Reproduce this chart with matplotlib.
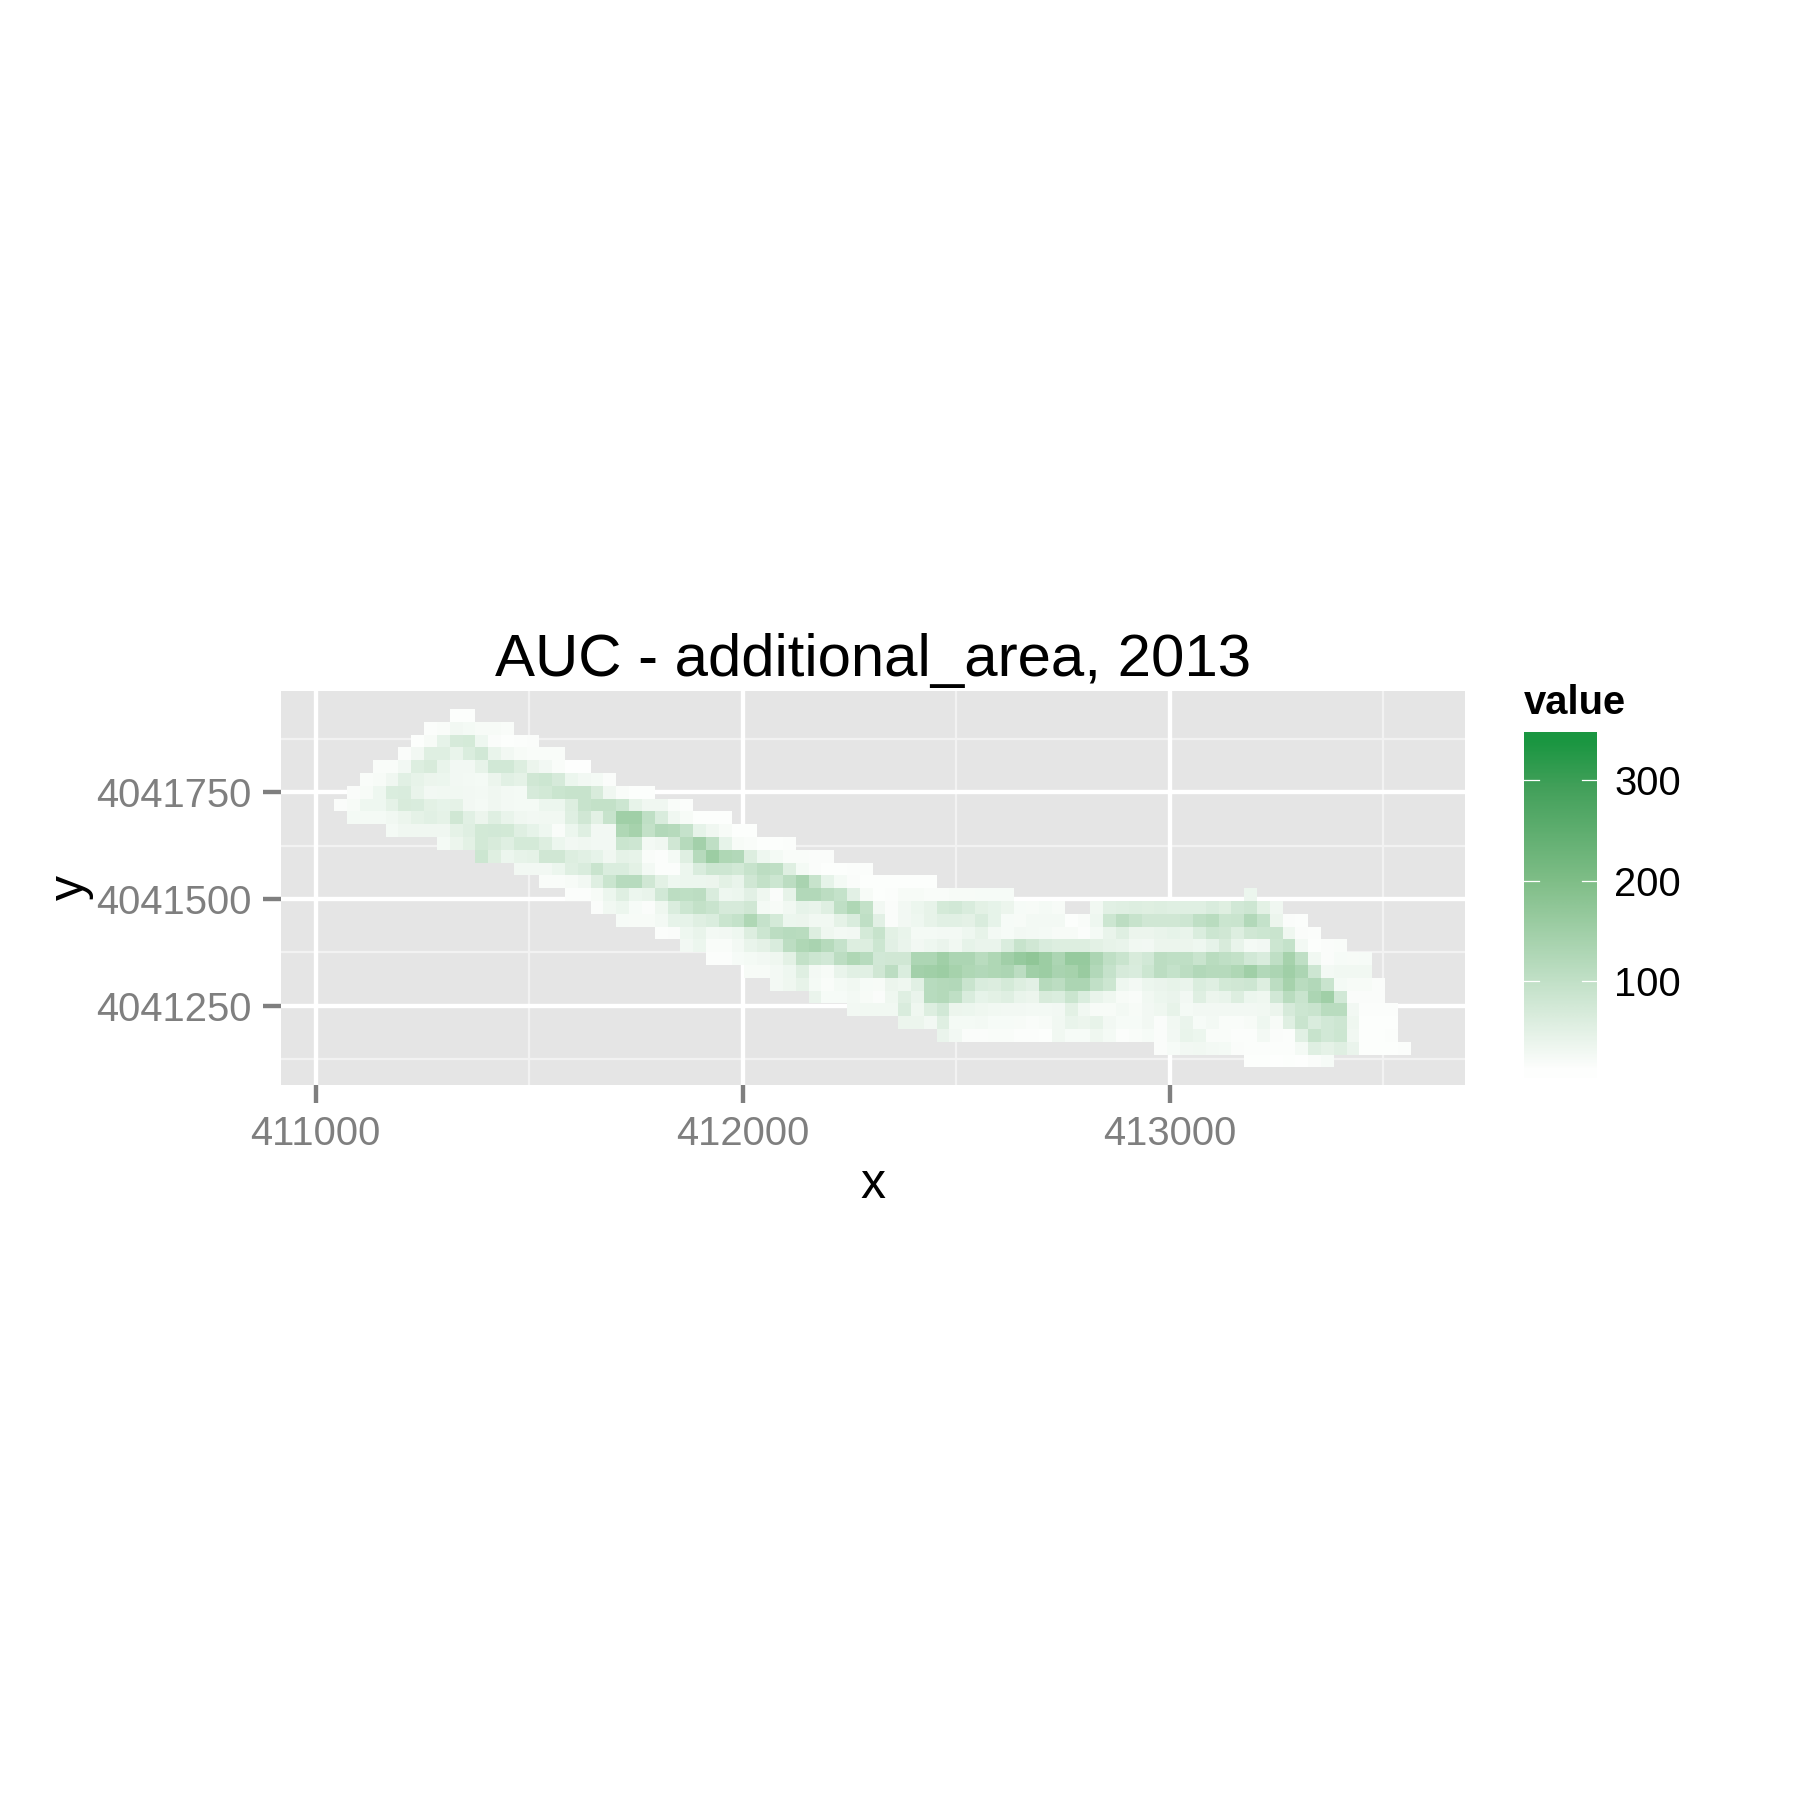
import numpy as np
import matplotlib as mpl
mpl.use('Agg')
import matplotlib.pyplot as plt
from matplotlib.colors import LinearSegmentedColormap, Normalize

plt.rcParams['font.family'] = ['Liberation Sans', 'DejaVu Sans']

nan = float('nan')

# cell size of the raster, map units
cell = 30
x_first = 411059
y_top = 4041930

x_ticks = [411000, 412000, 413000]
x_minor = [411500, 412500, 413500]
y_ticks = [4041250, 4041500, 4041750]
y_minor = [4041125, 4041375, 4041625, 4041875]
legend_ticks = [100, 200, 300]
value_min = 4
value_max = 348

# first column of each row, counted from x_first
row_start = [9, 7, 6, 5, 3, 2, 1, 0, 1, 4, 8, 11, 14, 16, 18, 20, 22, 25, 27, 29, 32, 34, 37, 40, 44, 47, 64, 71]
# last column, only used as a check on the rows below
row_end = [10, 13, 15, 17, 19, 21, 24, 27, 30, 32, 35, 38, 41, 46, 71, 73, 75, 76, 78, 80, 80, 81, 81, 82, 82, 82, 83, 77]

row_values = [
    [6, 6],
    [8, 12, 22, 18, 14, 14, 12],
    [6, 14, 40, 65, 68, 28, 10, 6, 8, 10],
    [10, 22, 50, 50, 35, 58, 72, 35, 22, 14, 12, 12, 12],
    [12, 12, 22, 55, 62, 35, 22, 22, 38, 72, 72, 55, 32, 22, 12, 5, 5],
    [12, 14, 25, 48, 38, 32, 30, 22, 20, 18, 32, 48, 42, 75, 80, 65, 30, 22, 18, 10],
    [10, 14, 28, 58, 60, 35, 22, 24, 24, 22, 20, 25, 20, 18, 65, 70, 82, 88, 88, 62, 25, 12, 6, 6],
    [10, 14, 28, 28, 42, 62, 60, 45, 40, 42, 22, 18, 25, 20, 18, 18, 30, 30, 55, 88, 95, 95, 80, 38, 25, 25, 12, 8],
    [18, 18, 18, 24, 32, 42, 48, 42, 75, 48, 32, 50, 35, 25, 22, 24, 24, 50, 75, 45, 88, 150, 150, 100, 60, 25, 14, 6, 6, 6],
    [18, 25, 25, 25, 25, 42, 50, 70, 72, 70, 50, 40, 28, 12, 30, 50, 22, 22, 125, 140, 95, 120, 115, 90, 40, 25, 14, 6, 6],
    [18, 32, 45, 70, 62, 50, 68, 68, 55, 30, 22, 25, 22, 22, 82, 78, 20, 25, 75, 115, 145, 100, 40, 14, 12, 6, 6, 8],
    [80, 52, 30, 38, 42, 75, 75, 55, 48, 40, 25, 42, 38, 12, 8, 18, 50, 115, 155, 125, 120, 55, 28, 18, 12, 12, 10, 10],
    [22, 22, 22, 30, 50, 60, 85, 58, 58, 45, 20, 8, 8, 30, 60, 80, 78, 70, 88, 105, 100, 50, 18, 10, 6, 6, 8, 8],
    [12, 12, 14, 22, 50, 82, 112, 112, 75, 45, 28, 30, 30, 32, 45, 36, 75, 95, 80, 105, 135, 88, 40, 18, 10, 6, 6, 6, 6, 6, 6],
    [8, 8, 14, 30, 50, 30, 36, 72, 105, 102, 105, 60, 28, 30, 46, 26, 10, 38, 120, 120, 105, 92, 46, 14, 6, 8, 14, 14, 12, 12, 14, 14, 16, 16, 16,
     nan, nan, nan, nan, nan, nan, nan, nan, nan, nan, nan, nan, nan, nan, nan, nan, nan, nan, 30],
    [10, 24, 30, 16, 10, 26, 58, 80, 95, 85, 65, 65, 75, 18, 14, 24, 40, 36, 50, 100, 125, 95, 22, 10, 22, 30, 38, 68, 72, 60, 45, 40, 32, 16, 14, 18, 14,
     nan, nan, 24, 48, 50, 55, 52, 55, 50, 50, 50, 60, 52, 72, 78, 45, 25],
    [16, 14, 14, 20, 40, 40, 50, 58, 82, 92, 125, 90, 68, 30, 32, 24, 24, 42, 60, 100, 46, 10, 22, 28, 38, 48, 48, 44, 60, 40, 16, 14, 20, 20, 20,
     6, 12, 28, 80, 105, 88, 75, 75, 75, 78, 100, 110, 82, 85, 120, 92, 32, 10, 8],
    [8, 10, 28, 35, 20, 22, 28, 55, 80, 105, 112, 110, 55, 26, 20, 22, 68, 88, 45, 36, 18, 18, 20, 20, 28, 38, 20, 16, 22, 20, 18, 14,
     14, 8, 18, 36, 50, 32, 32, 36, 40, 36, 58, 80, 75, 55, 75, 80, 85, 26, 10, 8],
    [22, 30, 12, 12, 20, 36, 44, 60, 105, 125, 135, 115, 90, 55, 55, 80, 46, 34, 22, 28, 34, 24, 40, 34, 34, 58, 88, 75, 60, 55,
     55, 55, 45, 38, 36, 24, 22, 32, 32, 32, 28, 40, 62, 35, 18, 22, 80, 92, 20, 6, 10, 12],
    [8, 8, 16, 18, 22, 26, 45, 95, 80, 72, 105, 125, 112, 72, 75, 75, 128, 128, 150, 130, 130, 110, 125, 148, 165, 175, 155, 130,
     165, 165, 130, 100, 85, 62, 72, 105, 100, 100, 85, 110, 100, 95, 72, 60, 100, 140, 100, 24, 10, 16, 14, 16],
    [14, 14, 20, 28, 50, 20, 14, 36, 48, 48, 75, 105, 58, 145, 150, 155, 140, 125, 120, 125, 130, 105, 150, 155, 135,
     140, 160, 120, 90, 65, 60, 80, 105, 92, 105, 120, 115, 115, 125, 150, 120, 130, 150, 130, 78, 20, 24, 24, 24],
    [20, 26, 38, 18, 12, 18, 24, 16, 14, 32, 26, 48, 112, 118, 120, 85, 60, 56, 68, 54, 46, 115, 105,
     130, 130, 98, 80, 28, 20, 30, 34, 38, 34, 58, 50, 70, 75, 78, 55, 105, 140, 110, 120, 85, 18, 14, 14, 10],
    [34, 16, 16, 20, 14, 10, 26, 50, 34, 112, 118, 100, 60, 40, 45, 50, 36, 32, 62, 58,
     82, 58, 36, 26, 14, 12, 24, 30, 34, 22, 50, 32, 35, 55, 30, 26, 72, 110, 85, 130, 150, 72, 10, 10, 10],
    [22, 24, 24, 24, 60, 26, 55, 72, 32, 30, 26, 24, 22, 22, 20, 20, 22,
     45, 24, 14, 14, 20, 14, 22, 26, 38, 18, 22, 22, 22, 22, 22, 24, 32, 65, 80, 85, 110, 110, 22, 8, 8, 8],
    [32, 32, 22, 50, 18, 18, 20, 16, 16, 14, 12, 14, 24,
     36, 32, 38, 22, 16, 16, 22, 10, 24, 34, 16, 20, 12, 12, 14, 28, 14, 50, 85, 60, 72, 78, 26, 6, 6, 6],
    [34, 22, 10, 10, 12, 12, 8, 8, 6, 24,
     16, 16, 26, 18, 8, 12, 16, 10, 22, 36, 30, 12, 12, 8, 8, 20, 10, 8, 48, 88, 72, 80, 24, 6, 6, 8],
    [10, 16, 22, 24, 20, 18, 10, 8, 8, 8, 8, 18, 50, 42, 50, 34, 6, 6, 6, 8],
    [6, 6, 5, 6, 5, 10, 16],
]

for s, e, vals in zip(row_start, row_end, row_values):
    assert e - s + 1 == len(vals), (s, e, len(vals))

# scale
scale_values = [4, 100, 200, 300, 348]
scale_colors = ['#FDFEFD', '#BFDFC5', '#80BE88', '#42A05A', '#1A9641']
stops = [(v - value_min) / (value_max - value_min) for v in scale_values]
cmap = LinearSegmentedColormap.from_list('auc', list(zip(stops, scale_colors)))
norm = Normalize(value_min, value_max)

n_cols = max(row_end) + 1
grid = np.full((len(row_values), n_cols), nan)
for r, vals in enumerate(row_values):
    grid[r, row_start[r]:row_start[r] + len(vals)] = vals
grid = np.ma.masked_invalid(grid)

x_edges = x_first - cell / 2 + cell * np.arange(n_cols + 1)
y_edges = y_top + cell / 2 - cell * np.arange(len(row_values) + 1)

W = 1800.0
fig = plt.figure(figsize=(6, 6), dpi=300)
ax = fig.add_axes([281 / W, 1 - 1085 / W, (1465 - 281) / W, (1085 - 691) / W])
ax.set_facecolor('#E5E5E5')
for s in ax.spines.values():
    s.set_visible(False)

for v in x_minor:
    ax.axvline(v, color='#F2F2F2', lw=0.55, zorder=1)
for v in y_minor:
    ax.axhline(v, color='#F2F2F2', lw=0.55, zorder=1)
for v in x_ticks:
    ax.axvline(v, color='white', lw=1.05, zorder=1.5)
for v in y_ticks:
    ax.axhline(v, color='white', lw=1.05, zorder=1.5)

ax.pcolormesh(x_edges, y_edges, grid, cmap=cmap, norm=norm, antialiased=False, linewidth=0, zorder=2)

ax.set_xlim(410919, 413691)
ax.set_ylim(4041064, 4041987)
ax.set_xticks(x_ticks)
ax.set_yticks(y_ticks)
ax.set_xticklabels([str(v) for v in x_ticks])
ax.set_yticklabels([str(v) for v in y_ticks])
ax.tick_params(axis='both', color='#7F7F7F', labelcolor='#7F7F7F', labelsize=9.6,
               length=4.3, width=1.05, pad=2.8)
ax.set_xlabel('x', fontsize=12, labelpad=2.3)
ax.set_ylabel('y', fontsize=12, labelpad=0.5)
ax.set_title('AUC - additional_area, 2013', fontsize=14.4, pad=3.6)

# legend bar
cax = fig.add_axes([1524 / W, 1 - 1078 / W, (1597 - 1524) / W, (1078 - 732) / W])
bar = np.linspace(value_min, value_max, 20).reshape(-1, 1)
cax.imshow(bar, cmap=cmap, norm=norm, origin='lower', aspect='auto', interpolation='bilinear',
           extent=[0, 1, value_min, value_max])
for s in cax.spines.values():
    s.set_visible(False)
cax.set_xticks([])
cax.yaxis.tick_right()
cax.set_yticks(legend_ticks)
cax.set_yticklabels([str(v) for v in legend_ticks], fontsize=9.6, color='black')
cax.tick_params(axis='y', length=0, pad=4.1)
for v in legend_ticks:
    cax.plot([0, 0.2], [v, v], color='white', lw=0.3)
    cax.plot([0.8, 1], [v, v], color='white', lw=0.3)
cax.set_xlim(0, 1)
cax.set_ylim(value_min, value_max)
fig.text(1524 / W, 1 - 703 / W, 'value', fontsize=9.6, fontweight='bold', va='center', ha='left')

fig.savefig('out.png', dpi=300)
